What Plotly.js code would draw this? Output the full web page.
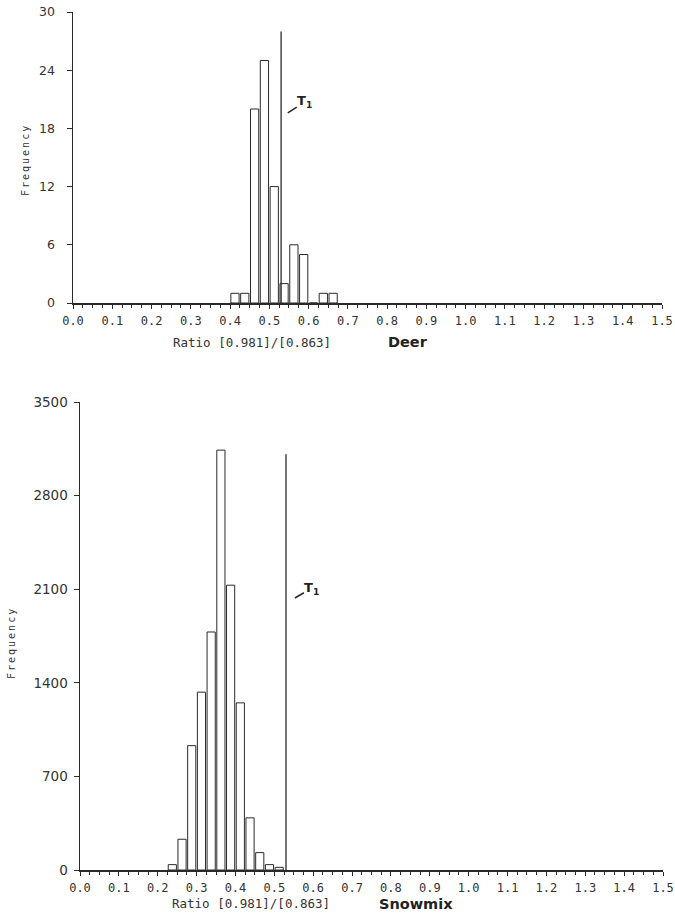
<!DOCTYPE html>
<html>
<head>
<meta charset="utf-8">
<script src="https://cdn.plot.ly/plotly-3.0.1.min.js"></script>
<style>
  html, body { margin: 0; padding: 0; background: #ffffff; }
  #chart { width: 675px; height: 917px; }
</style>
</head>
<body>
<div id="chart"></div>
<script>
// ---- Data ----
const binWidth = 0.025;

// Deer histogram (bins of width 0.025, by lower edge)
const deerBinStart = [0.400, 0.425, 0.450, 0.475, 0.500, 0.525, 0.550, 0.575, 0.600, 0.625, 0.650];
const deerFreq     = [1, 1, 20, 25, 12, 2, 6, 5, 0, 1, 1];

// Snowmix histogram
const snowBinStart = [0.225, 0.250, 0.275, 0.300, 0.325, 0.350, 0.375, 0.400, 0.425, 0.450, 0.475, 0.500];
const snowFreq     = [40, 230, 930, 1330, 1780, 3140, 2130, 1250, 390, 130, 40, 20];

// Threshold T1 and the heights its marker line reaches in each panel
const t1Ratio = 0.53;
const t1TopDeer = 28;
const t1TopSnow = 3110;

// Axis ticks
const deerYTicks = [0, 6, 12, 18, 24, 30];
const snowYTicks = [0, 700, 1400, 2100, 2800, 3500];
const xRange = [0, 1.5];

// ---- Styling ----
const ink = '#2a2a2a';
const W = 675, H = 917;
const monoFont = 'DejaVu Sans Mono';
const sansFont = 'DejaVu Sans';

const gap = 0.004;
function barTrace(xs, ys, xa, ya) {
  return {
    type: 'bar', x: xs, y: ys, xaxis: xa, yaxis: ya,
    width: binWidth - gap, offset: gap / 2,
    marker: { color: '#ffffff', line: { color: ink, width: 1 } },
    hoverinfo: 'skip', showlegend: false
  };
}
function t1Trace(top, xa, ya) {
  return {
    type: 'scatter', mode: 'lines', x: [t1Ratio, t1Ratio], y: [0, top],
    xaxis: xa, yaxis: ya, line: { color: ink, width: 1.3 },
    hoverinfo: 'skip', showlegend: false
  };
}

const traces = [
  barTrace(deerBinStart, deerFreq, 'x', 'y'),
  t1Trace(t1TopDeer, 'x', 'y'),
  barTrace(snowBinStart, snowFreq, 'x2', 'y2'),
  t1Trace(t1TopSnow, 'x2', 'y2')
];

function xAxis(domainPx, anchor) {
  return {
    domain: [domainPx[0] / W, domainPx[1] / W], anchor: anchor,
    range: xRange, dtick: 0.1, tick0: 0, tickformat: '.1f',
    showgrid: false, zeroline: false, showline: true,
    linecolor: ink, linewidth: 1.5,
    ticks: 'outside', ticklen: 4, tickwidth: 1, tickcolor: ink,
    minor: { dtick: binWidth, tick0: 0, ticks: 'outside', ticklen: 3, tickwidth: 1, tickcolor: ink, showgrid: false },
    tickfont: { family: monoFont, size: 12, color: '#333' },
    ticklabelstandoff: 2,
    fixedrange: true
  };
}
function yAxis(domainPx, anchor, range, tickvals, fontSize, standoff) {
  return {
    domain: [(H - domainPx[1]) / H, (H - domainPx[0]) / H], anchor: anchor,
    range: range, tickvals: tickvals,
    showgrid: false, zeroline: false, showline: true,
    linecolor: ink, linewidth: 1.5,
    ticks: 'outside', ticklen: 5, tickwidth: 1, tickcolor: ink,
    tickfont: { family: sansFont, size: fontSize, color: '#333' },
    ticklabelstandoff: standoff,
    fixedrange: true
  };
}

function note(xPx, yPx, text, font, extra) {
  return Object.assign({
    xref: 'paper', yref: 'paper', x: xPx / W, y: 1 - yPx / H,
    xanchor: 'center', yanchor: 'middle', showarrow: false,
    text: text, font: font
  }, extra || {});
}

const freqFont = { family: monoFont, size: 10, color: '#333' };
const titleFont = { family: monoFont, size: 12.5, color: '#333' };
const nameFont = { family: sansFont, size: 14.5, color: '#222' };
const t1Font = { family: sansFont, size: 13, color: '#222' };

const layout = {
  width: W, height: H,
  margin: { l: 0, r: 0, t: 0, b: 0 },
  paper_bgcolor: '#ffffff', plot_bgcolor: 'rgba(0,0,0,0)',
  showlegend: false, bargap: 0,
  xaxis: xAxis([73, 662], 'y'),
  yaxis: yAxis([12, 303], 'x', [0, 30], deerYTicks, 12.5, 9),
  xaxis2: xAxis([80, 663], 'y2'),
  yaxis2: yAxis([402, 870], 'x2', [0, 3500], snowYTicks, 13.5, 3),
  annotations: [
    note(26, 160, '<span style="letter-spacing:2px">Frequency</span>', freqFont, { textangle: -90 }),
    note(11, 643, '<span style="letter-spacing:2px">Frequency</span>', freqFont, { textangle: -90 }),
    note(252, 342, 'Ratio [0.981]/[0.863]', titleFont),
    note(251, 903, 'Ratio [0.981]/[0.863]', titleFont),
    note(408, 342, '<b>Deer</b>', nameFont),
    note(416, 904, '<b>Snowmix</b>', nameFont),
    // T1 markers
    { xref: 'x', yref: 'y', x: 0.547, y: 19.6, ax: 17, ay: -11, showarrow: true,
      xanchor: 'center', yanchor: 'middle',
      arrowhead: 0, arrowwidth: 1.6, arrowcolor: ink, borderpad: 0, standoff: 0,
      text: '<b>T<sub>1</sub></b>', font: t1Font },
    { xref: 'x2', yref: 'y2', x: 0.553, y: 2034, ax: 17, ay: -10, showarrow: true,
      xanchor: 'center', yanchor: 'middle',
      arrowhead: 0, arrowwidth: 1.6, arrowcolor: ink, borderpad: 0, standoff: 0,
      text: '<b>T<sub>1</sub></b>', font: t1Font }
  ]
};

Plotly.newPlot('chart', traces, layout, { displayModeBar: false, staticPlot: true });
</script>
</body>
</html>
